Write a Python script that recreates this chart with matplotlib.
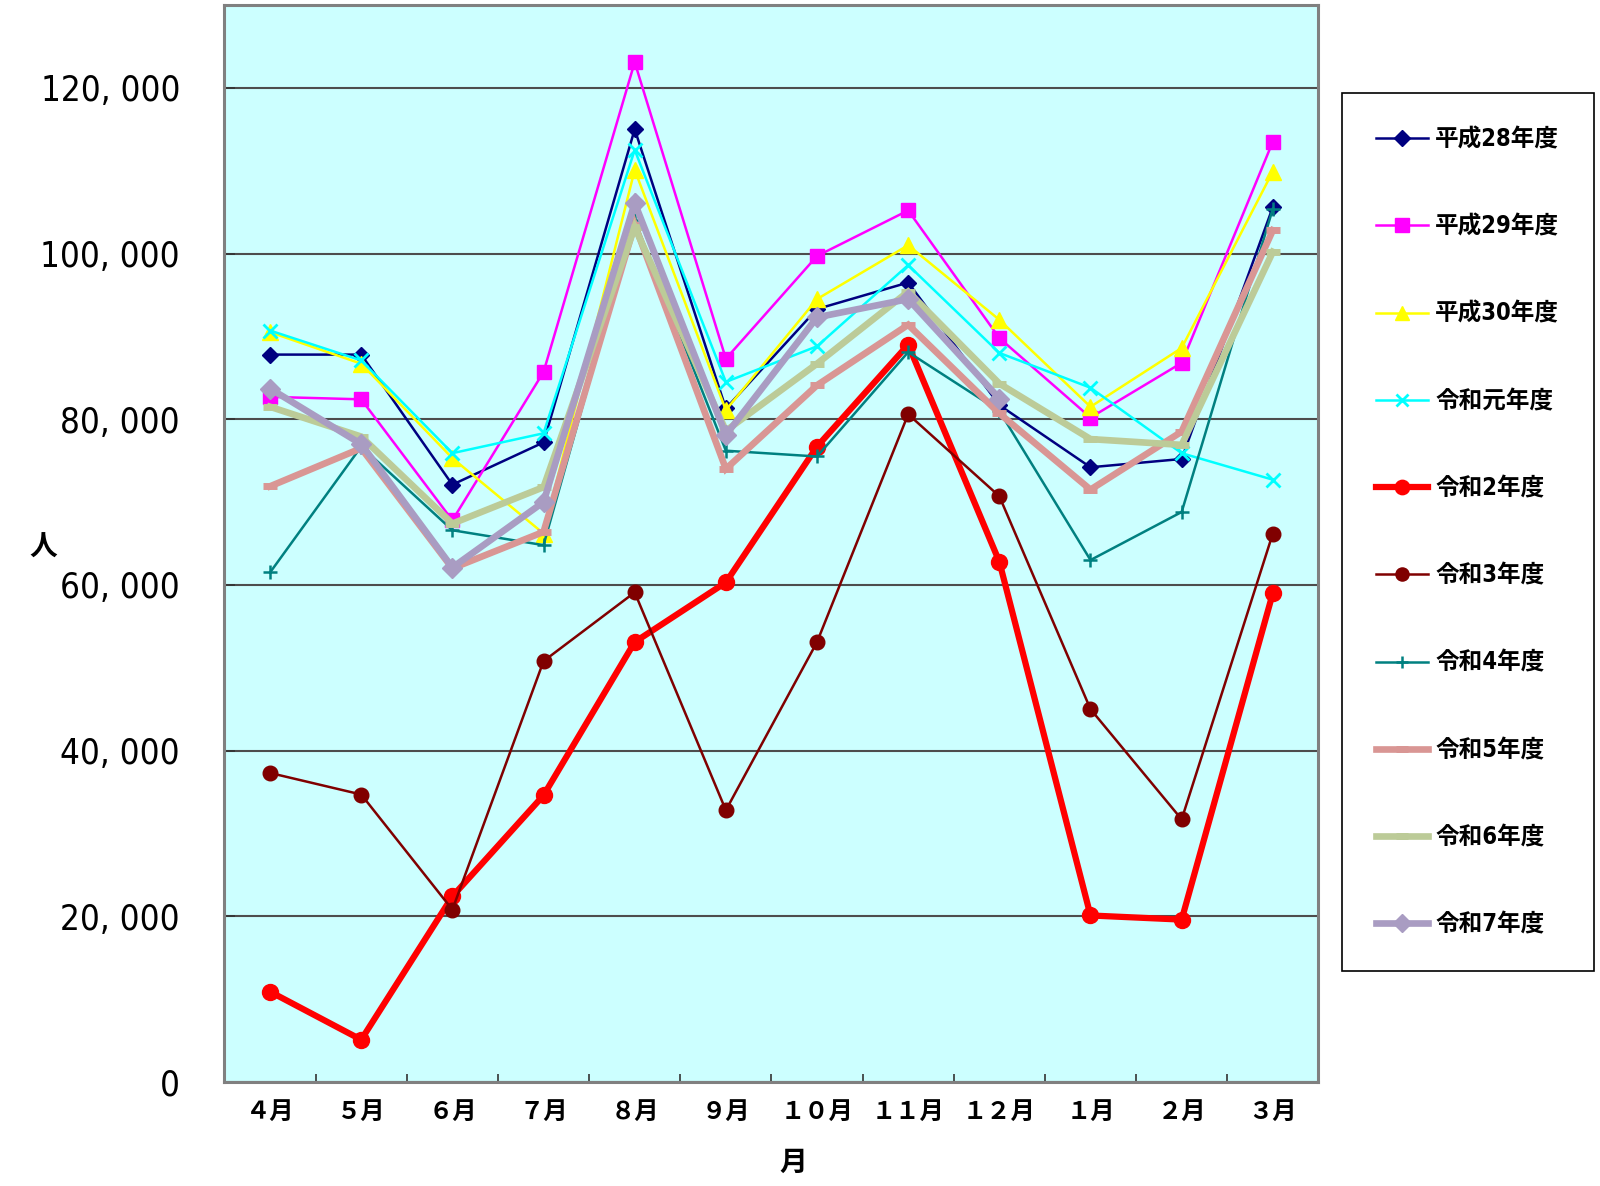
import numpy as np
import matplotlib
matplotlib.use("Agg")
import matplotlib.pyplot as plt
from matplotlib import font_manager
from matplotlib.ticker import FixedLocator, FuncFormatter

# ---- data ----
months = ["４月", "５月", "６月", "７月", "８月", "９月", "１０月", "１１月", "１２月", "１月", "２月", "３月"]
yticks_vals = [0, 20000, 40000, 60000, 80000, 100000, 120000]
nan = np.nan
h28 = [87800, 87800, 72100, 77200, 115000, 81300, 93300, 96500, 81700, 74200, 75200, 105600]
h29 = [82700, 82400, 67800, 85700, 123100, 87300, 99700, 105200, 89800, 80200, 86800, 113500]
h30 = [90500, 86700, 75300, 66200, 110100, 81100, 94500, 101000, 92000, 81500, 88600, 109900]
r1 = [90700, 87100, 75900, 78300, 112500, 84500, 88800, 98600, 88000, 83800, 75900, 72700]
r2 = [10900, 5100, 22400, 34600, 53100, 60300, 76700, 89000, 62800, 20100, 19600, 59000]
r3 = [37300, 34700, 20800, 50800, 59100, 32800, 53100, 80600, 70700, 45000, 31700, 66200]
r4 = [61500, 76700, 66600, 64800, 104000, 76200, 75500, 88100, 81000, 63000, 68800, 105400]
r5 = [71900, 76500, 62000, 66400, 103500, 74000, 84100, 91400, 80700, 71500, 78500, 102800]
r6 = [81500, 77900, 67400, 71800, 103200, 78600, 86700, 95400, 84300, 77600, 76900, 100200]
r7 = [83700, 77000, 62100, 70000, 106100, 78100, 92300, 94500, 82500, nan, nan, nan]

series = [
    ("平成28年度", h28, dict(color="#000080", lw=1.8, marker="D", ms=8.5)),
    ("平成29年度", h29, dict(color="#FF00FF", lw=1.8, marker="s", ms=10.5)),
    ("平成30年度", h30, dict(color="#FFFF00", lw=1.8, marker="^", ms=11)),
    ("令和元年度", r1, dict(color="#00FFFF", lw=1.8, marker="x", ms=10, mew=2)),
    ("令和2年度", r2, dict(color="#FF0000", lw=4.5, marker="o", ms=11.5)),
    ("令和3年度", r3, dict(color="#800000", lw=1.8, marker="o", ms=10.5)),
    ("令和4年度", r4, dict(color="#008080", lw=1.8, marker="+", ms=10, mew=1.8)),
    ("令和5年度", r5, dict(color="#D99694", lw=4.8, marker="_", ms=10, mew=5)),
    ("令和6年度", r6, dict(color="#BCCB98", lw=4.8, marker="_", ms=10, mew=5)),
    ("令和7年度", r7, dict(color="#A99CC2", lw=4.8, marker="D", ms=10.5)),
]

# pick a condensed latin face if one is installed
_stretch_rank = {"ultra-condensed": 1, "extra-condensed": 2, "condensed": 3, "semi-condensed": 4}
narrow_name = None
narrow_stretch = "normal"
for f in font_manager.fontManager.ttflist:
    st = f.stretch
    if isinstance(st, str) and st in _stretch_rank or ("Narrow" in f.name or "Condensed" in f.name):
        if f.style == "normal":
            narrow_name = f.name
            narrow_stretch = st if isinstance(st, str) else "condensed"
            if "Liberation" in f.name or "DejaVu" in f.name:
                break
if narrow_name is None:
    narrow_name = "DejaVu Sans"

cjk = ["Noto Sans CJK JP", "DejaVu Sans"]
narrow_fam = [narrow_name, "Noto Sans CJK JP", "DejaVu Sans"]

fig = plt.figure(figsize=(16, 11.86), dpi=100)
ax = fig.add_axes([0.1403, 0.0877, 0.6837, 0.9081])
ax.set_facecolor("#CCFFFF")

x = np.arange(len(months))
for label, vals, st in series:
    ax.plot(x, vals, label=label, color=st["color"], lw=st["lw"], marker=st["marker"],
            ms=st["ms"], mew=st.get("mew", 1.0), mfc=st["color"], mec=st["color"],
            solid_joinstyle="miter")

ax.set_xlim(-0.5, len(months) - 0.5)
ax.set_ylim(0, 130000)

ax.set_yticks(yticks_vals)
ax.yaxis.set_major_formatter(FuncFormatter(lambda v, p: f"{int(v):,}".replace(",", ", ")))
ax.yaxis.grid(True, color="#4d4d4d", lw=1.5)
ax.set_axisbelow(True)

ax.xaxis.set_major_locator(FixedLocator(np.arange(0.5, len(months) - 1, 1.0)))
ax.xaxis.set_minor_locator(FixedLocator(x))
ax.set_xticklabels([], minor=False)
ax.set_xticklabels(months, minor=True)
ax.tick_params(axis="x", which="major", direction="in", length=6, width=1.2, color="#333333")
ax.tick_params(axis="x", which="minor", length=0, pad=13)
ax.tick_params(axis="y", direction="in", length=8, width=1.2, color="#333333", pad=32)

for t in ax.get_xticklabels(minor=True):
    t.set_fontfamily(cjk)
    t.set_fontsize(17.5)
    t.set_fontweight("bold")
for t in ax.get_yticklabels():
    t.set_fontfamily(narrow_fam)
    t.set_fontstretch(narrow_stretch)
    t.set_fontsize(25)

for s in ax.spines.values():
    s.set_color("#808080")
    s.set_linewidth(2.2)

fig.text(43 / 1600, 1 - 548 / 1186, "人", family=cjk, fontsize=20, fontweight="bold",
         ha="center", va="center")
fig.text(793 / 1600, 1 - 1163 / 1186, "月", family=cjk, fontsize=20, fontweight="bold",
         ha="center", va="center")

leg = ax.legend(loc="upper left", bbox_to_anchor=(1342 / 1600, 1 - 93 / 1186),
                bbox_transform=fig.transFigure, borderaxespad=0, frameon=True, fancybox=False,
                edgecolor="black", facecolor="white", framealpha=1,
                prop=dict(family=narrow_fam, size=17, weight="bold", stretch=narrow_stretch),
                handlelength=2.2, handletextpad=0.3, borderpad=1.45, labelspacing=2.68,
                markerscale=0.9)
leg.get_frame().set_linewidth(1.2)

fig.savefig("out.png", dpi=100)
